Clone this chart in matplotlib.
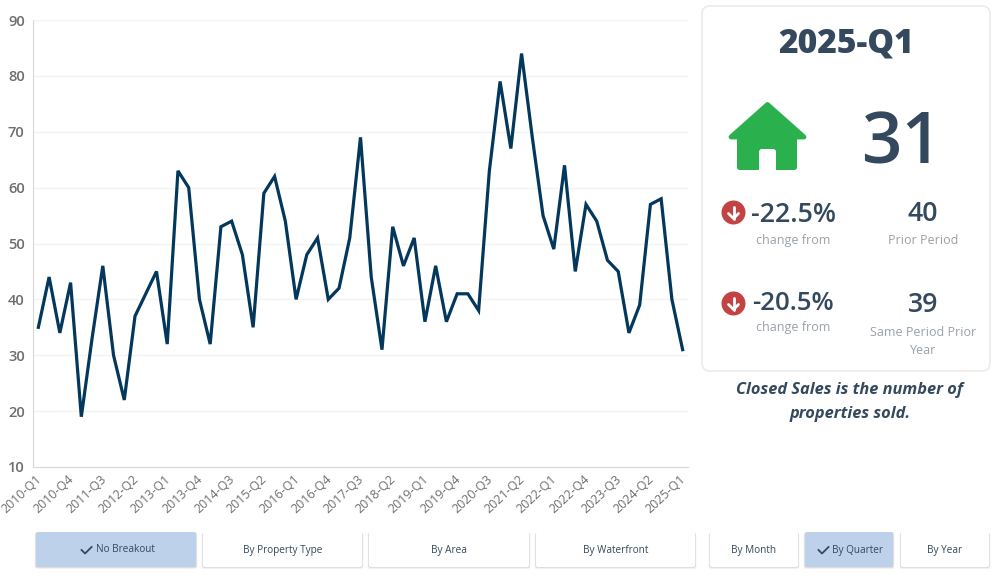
import matplotlib
matplotlib.use("Agg")
import matplotlib.pyplot as plt
from matplotlib.patches import FancyBboxPatch, Polygon, Circle
from matplotlib.transforms import ScaledTranslation

plt.rcParams['font.family'] = ['Open Sans', 'DejaVu Sans']

# closed sales per quarter
years = range(2010, 2026)
quarters = [f"{y}-Q{q}" for y in years for q in (1, 2, 3, 4)][:61]
sales = [35, 44, 34, 43, 19, 33, 46, 30, 22, 37, 41, 45,
         32, 63, 60, 40, 32, 53, 54, 48, 35, 59, 62, 54,
         40, 48, 51, 40, 42, 51, 69, 44, 31, 53, 46, 51,
         36, 46, 36, 41, 41, 38, 63, 79, 67, 84, 69, 55,
         49, 64, 45, 57, 54, 47, 45, 34, 39, 57, 58, 40, 31]
y_ticks = [10, 20, 30, 40, 50, 60, 70, 80, 90]

breakouts = ["No Breakout", "By Property Type", "By Area", "By Waterfront"]
periods = ["By Month", "By Quarter", "By Year"]

DARK = "#34495e"
LINE = "#03375c"
GREY = "#9aa1a8"
TICK = "#6e6e6e"
BLUE = "#bdd2ea"
W, H = 1000, 575

fig = plt.figure(figsize=(W / 100, H / 100), dpi=100, facecolor="white")

# chart
ax = fig.add_axes([33 / W, 1 - 467 / H, 655 / W, 447 / H])
ax.plot(range(len(sales)), sales, color=LINE, lw=2.3, solid_joinstyle="miter")
ax.set_xlim(-0.5, len(sales) - 0.5)
ax.set_ylim(10, 90)
ax.set_yticks(y_ticks)
ax.set_xticks(range(0, len(sales), 3))
ax.set_xticklabels(quarters[::3], rotation=43, ha="right", rotation_mode="anchor",
                   fontsize=9, color=TICK)
ax.tick_params(axis="y", length=0, pad=6, labelsize=10.5, labelcolor=TICK)
ax.tick_params(axis="x", length=0, pad=4)
# tick_params resets the label transform, so shift after it
shift = ScaledTranslation(-3 / 100, 0, fig.dpi_scale_trans)
for lab in ax.get_xticklabels():
    lab.set_transform(lab.get_transform() + shift)
for lab in ax.get_yticklabels():
    lab.set_fontweight("semibold")
ax.grid(axis="y", color="#f3f3f3", lw=1)
ax.set_axisbelow(True)
for s in ("top", "right"):
    ax.spines[s].set_visible(False)
for s in ("left", "bottom"):
    ax.spines[s].set_color("#d8d8d8")

# overlay in pixel coords
ov = fig.add_axes([0, 0, 1, 1], facecolor="none")
ov.set_xlim(0, W)
ov.set_ylim(H, 0)
ov.axis("off")


def box(x0, y0, x1, y1, fc="white", r=2):
    for off, a in ((3, 0.03), (2, 0.05), (1, 0.07)):
        ov.add_patch(FancyBboxPatch((x0 - off * 0.5, y0 + off * 0.3), x1 - x0 + off, y1 - y0 + off * 0.4,
                                    boxstyle=f"round,pad=0,rounding_size={r}",
                                    fc="black", ec="none", alpha=a))
    ov.add_patch(FancyBboxPatch((x0, y0), x1 - x0, y1 - y0,
                                boxstyle=f"round,pad=0,rounding_size={r}", fc=fc, ec="none"))


# card
ov.add_patch(FancyBboxPatch((702, 6), 288, 365, boxstyle="round,pad=0,rounding_size=8",
                            fc="white", ec="#ebebeb", lw=1.2))
ov.text(846, 43, "2025-Q1", ha="center", va="center", fontsize=24.2, fontweight=800, color=DARK)
ov.text(902, 146, "31", ha="center", va="center", fontsize=51, fontweight="semibold", color=DARK)

# house icon
GREEN = "#2bb04e"
ov.add_patch(Polygon([(767.5, 104.5), (804, 137), (731, 137)], closed=True,
                     fc=GREEN, ec=GREEN, lw=3.5, joinstyle="round"))
ov.add_patch(FancyBboxPatch((737, 128), 60, 42, boxstyle="round,pad=0,rounding_size=4", fc=GREEN, ec="none"))
ov.add_patch(FancyBboxPatch((759, 149), 17, 30, boxstyle="round,pad=0,rounding_size=3", fc="white", ec="none"))
# legs are rounded at the door side
ov.add_patch(FancyBboxPatch((737, 160), 22, 10, boxstyle="round,pad=0,rounding_size=3", fc=GREEN, ec="none"))
ov.add_patch(FancyBboxPatch((776, 160), 21, 10, boxstyle="round,pad=0,rounding_size=3", fc=GREEN, ec="none"))
ov.add_patch(plt.Rectangle((755, 170), 25, 11, fc="white", ec="none"))


def down_icon(cx, cy):
    ov.add_patch(Circle((cx, cy), 12, fc="#c34244", ec="none"))
    ov.plot([cx, cx], [cy - 6, cy + 6], color="white", lw=2, solid_capstyle="round")
    ov.plot([cx - 5, cx, cx + 5], [cy + 1, cy + 6, cy + 1], color="white", lw=2,
            solid_capstyle="round", solid_joinstyle="round")


down_icon(733.5, 212.5)
down_icon(733.5, 303.5)

ov.text(793, 215, "-22.5%", ha="center", va="center", fontsize=19.3, fontweight="semibold", color=DARK)
ov.text(793, 304, "-20.5%", ha="center", va="center", fontsize=18.5, fontweight="semibold", color=DARK)
ov.text(923, 214, "40", ha="center", va="center", fontsize=19.3, fontweight="semibold", color=DARK)
ov.text(923, 305, "39", ha="center", va="center", fontsize=19.3, fontweight="semibold", color=DARK)
ov.text(793, 240.5, "change from", ha="center", va="center", fontsize=9, color=GREY)
ov.text(793, 328, "change from", ha="center", va="center", fontsize=9, color=GREY)
ov.text(923, 240.5, "Prior Period", ha="center", va="center", fontsize=9, color=GREY)
ov.text(923, 332, "Same Period Prior", ha="center", va="center", fontsize=9, color=GREY)
ov.text(923, 350.5, "Year", ha="center", va="center", fontsize=9, color=GREY)

ov.text(850, 390, "Closed Sales is the number of", ha="center", va="center", fontsize=11.75,
        fontweight="bold", fontstyle="italic", color=DARK)
ov.text(850, 414, "properties sold.", ha="center", va="center", fontsize=11.75,
        fontweight="bold", fontstyle="italic", color=DARK)


def button(x0, x1, label, active=False):
    box(x0, 532, x1, 567, fc=BLUE if active else "white")
    cx = (x0 + x1) / 2
    if active:
        t = ov.text(cx + 9, 550, label, ha="center", va="center", fontsize=7.2,
                    fontweight="medium", color=DARK)
        fig.canvas.draw()
        lx = t.get_window_extent().x0
        ov.plot([lx - 14, lx - 10.5, lx - 4], [550, 553.5, 547], color=DARK, lw=1.3)
    else:
        ov.text(cx, 550, label, ha="center", va="center", fontsize=7.2,
                fontweight="medium", color=DARK)


btn_x = [(36, 196), (203, 362), (369, 529), (536, 695)]
for (a, b), lab, act in zip(btn_x, breakouts, [True, False, False, False]):
    button(a, b, lab, act)
per_x = [(710, 798), (805, 893), (901, 989)]
for (a, b), lab, act in zip(per_x, periods, [False, True, False]):
    button(a, b, lab, act)

fig.savefig("out.png", dpi=100)
